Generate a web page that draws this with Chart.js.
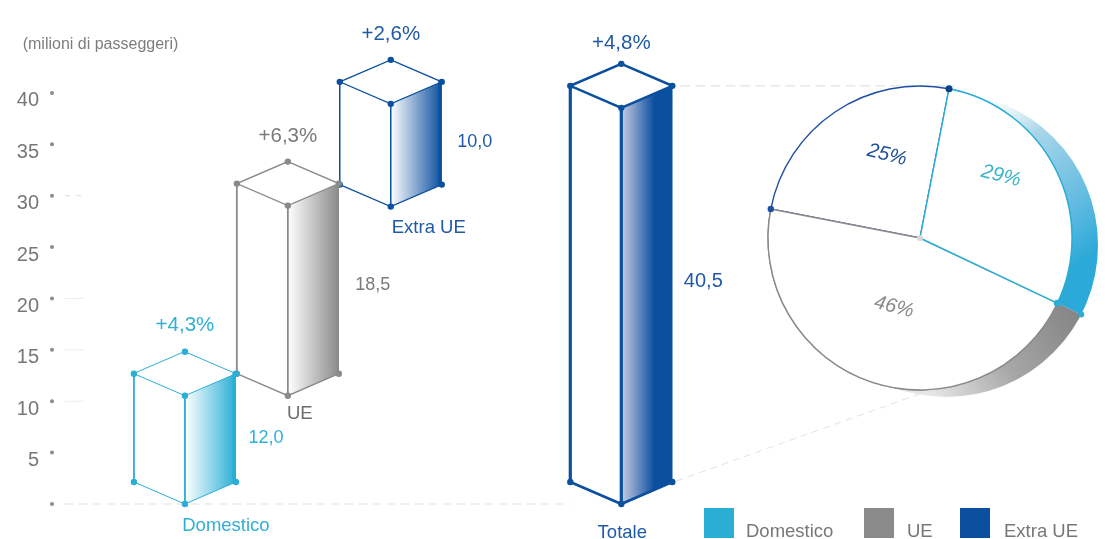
<!DOCTYPE html>
<html lang="it">
<head>
<meta charset="utf-8">
<title>Passeggeri</title>
<script src="https://cdn.jsdelivr.net/npm/chart.js@4/dist/chart.umd.min.js"></script>
<style>
    html, body { margin: 0; padding: 0; background: #fff; overflow: hidden; }
    #barsBox { position: absolute; left: 0; top: 0; width: 1105px; height: 539px; }
    #pieBox { position: absolute; left: 740px; top: 68px; width: 360px; height: 340px; }
</style>
</head>
<body>
<div id="barsBox"><canvas id="barsChart"></canvas></div>
<div id="pieBox"><canvas id="pieChart"></canvas></div>
<script>
const categories = ['Domestico', 'UE', 'Extra UE', 'Totale'];
const barValues = [12.0, 18.5, 10.0, 40.5];
const barStarts = [0, 12.0, 30.5, 0];
const changeLabels = ['+4,3%', '+6,3%', '+2,6%', '+4,8%'];
const yTicks = [0, 5, 10, 15, 20, 25, 30, 35, 40];

const pieLabels = ['Domestico', 'UE', 'Extra UE'];
const pieShares = [29, 46, 25];

const legendLabels = ['Domestico', 'UE', 'Extra UE'];

const CYAN = '#2aaed6';
const GREY = '#8a8a8a';
const BLUE = '#0b4f9f';
const FONT = '"Liberation Sans", Arial, sans-serif';

// colori e spessori di ogni parallelepipedo
const barColors = [CYAN, GREY, BLUE, BLUE];
const barLabelColors = ['#2fb0d6', '#7a7a7a', '#1f5aa8', '#1f5aa8'];
const barSideStart = ['#ffffff', '#ffffff', '#ffffff', '#c9cde4'];
const barEdge = [1.8, 1.8, 1.5, 3.2];
const barRoof = [1, 1.4, 1.2, 2.6];
// posizione di slot sull'asse x
const barSlots = [0, 1, 2, 4.24];
// offset delle etichette rispetto ai vertici del solido
const valueOffset = [[81, 10], [85, 6], [84, 9], [82, -2]];
const nameOffset = [[41, 22], [12, 18], [38, 21], [1, 29]];
const changeOffset = [-26, -25, -26, -21];
// quanto la faccia superiore sale sopra il valore sull'asse
const topLift = [7, 7, 6, 2];

const HALF_DEPTH = 22;

function dot(ctx, x, y, r, color) {
    ctx.fillStyle = color;
    ctx.beginPath();
    ctx.arc(x, y, r, 0, Math.PI * 2);
    ctx.fill();
}

function poly(ctx, points) {
    ctx.beginPath();
    points.forEach((p, i) => i ? ctx.lineTo(p[0], p[1]) : ctx.moveTo(p[0], p[1]));
    ctx.closePath();
}

function dashLine(ctx, x1, y1, x2, y2, dash, color) {
    ctx.save();
    ctx.strokeStyle = color;
    ctx.lineWidth = 1;
    ctx.setLineDash(dash);
    ctx.beginPath();
    ctx.moveTo(x1, y1);
    ctx.lineTo(x2, y2);
    ctx.stroke();
    ctx.restore();
}

function label(ctx, text, x, y, size, color) {
    ctx.font = size + 'px ' + FONT;
    ctx.fillStyle = color;
    ctx.textAlign = 'center';
    ctx.textBaseline = 'middle';
    ctx.fillText(text, x, y);
}

// solido isometrico costruito sull'elemento barra di Chart.js
function drawCuboid(ctx, bar, i, yScale) {
    const hw = bar.width / 2;
    const cx = bar.x;
    const zero = yScale.getPixelForValue(0);
    const topSide = yScale.getPixelForValue(barStarts[i] + barValues[i]) - topLift[i];
    const front = topSide + HALF_DEPTH;
    // la faccia superiore segue il valore, il vertice basso poggia sullo zero o sul solido sotto
    const base = barStarts[i] === 0 ? zero : yScale.getPixelForValue(barStarts[i]) - topLift[i] + HALF_DEPTH;
    const baseSide = base - HALF_DEPTH;
    const color = barColors[i];

    ctx.save();
    const grad = ctx.createLinearGradient(cx, 0, cx + hw, 0);
    grad.addColorStop(0, barSideStart[i]);
    grad.addColorStop(i === 3 ? 0.65 : 1, color);
    grad.addColorStop(1, color);
    ctx.fillStyle = grad;
    poly(ctx, [[cx, front], [cx + hw, topSide], [cx + hw, baseSide], [cx, base]]);
    ctx.fill();

    ctx.fillStyle = '#fff';
    poly(ctx, [[cx - hw, topSide], [cx, front], [cx, base], [cx - hw, baseSide]]);
    ctx.fill();

    ctx.strokeStyle = color;
    ctx.lineCap = 'round';
    ctx.lineWidth = barRoof[i];
    poly(ctx, [[cx, topSide - HALF_DEPTH], [cx + hw, topSide], [cx, front], [cx - hw, topSide]]);
    ctx.stroke();
    ctx.beginPath();
    ctx.moveTo(cx - hw, baseSide);
    ctx.lineTo(cx, base);
    ctx.lineTo(cx + hw, baseSide);
    ctx.stroke();

    ctx.lineWidth = barEdge[i];
    ctx.beginPath();
    ctx.moveTo(cx - hw, topSide);
    ctx.lineTo(cx - hw, baseSide);
    ctx.moveTo(cx, front);
    ctx.lineTo(cx, base);
    ctx.stroke();
    ctx.lineWidth = i === 1 ? 1.5 : 3.5;
    ctx.beginPath();
    ctx.moveTo(cx + hw - ctx.lineWidth / 2, topSide);
    ctx.lineTo(cx + hw - ctx.lineWidth / 2, baseSide);
    ctx.stroke();

    [[cx, topSide - HALF_DEPTH], [cx - hw, topSide], [cx + hw, topSide], [cx, front],
     [cx - hw, baseSide], [cx + hw, baseSide], [cx, base]].forEach(p => dot(ctx, p[0], p[1], 3.2, color));
    ctx.restore();

    label(ctx, changeLabels[i], cx, topSide - HALF_DEPTH + changeOffset[i], 20.5, barLabelColors[i]);
    label(ctx, barValues[i].toFixed(1).replace('.', ','), cx + valueOffset[i][0],
        (topSide + baseSide) / 2 + valueOffset[i][1], i === 3 ? 20 : 18, barLabelColors[i]);
    label(ctx, categories[i], cx + nameOffset[i][0], base + nameOffset[i][1], 18.5, i === 1 ? '#6e6e6e' : barLabelColors[i]);
}

const cuboidPlugin = {
    id: 'cuboidPlugin',
    afterDatasetsDraw(chart) {
        const ctx = chart.ctx;
        const yScale = chart.scales.y;
        const bars = chart.getDatasetMeta(0).data;
        const zero = yScale.getPixelForValue(0);

        // puntini dell'asse e tratteggi leggeri
        yScale.ticks.forEach(t => {
            const y = yScale.getPixelForValue(t.value);
            dot(ctx, 52, y, 2, '#8c8c8c');
            if ([10, 15, 20].includes(t.value)) dashLine(ctx, 65, y, 83, y, [], '#ececec');
            if (t.value === 30) dashLine(ctx, 65, y, 83, y, [5, 6], '#dcdcdc');
        });
        dashLine(ctx, 65, zero, bars[3].x - bars[3].width / 2, zero, [8, 6], '#dedede');

        // linee di collegamento dal totale alla torta
        const totalTop = yScale.getPixelForValue(barValues[3]) - topLift[3];
        const right = bars[3].x + bars[3].width / 2;
        dashLine(ctx, right + 8, totalTop, 955, totalTop, [10, 5], '#dcdcdc');
        dashLine(ctx, right + 4, zero - HALF_DEPTH - 1, 925, 392, [7, 5], '#e2e2e2');

        // prima i solidi dietro, il totale per ultimo
        [2, 1, 0, 3].forEach(i => drawCuboid(ctx, bars[i], i, yScale));

        label(ctx, '(milioni di passeggeri)', 100.5, 45, 16, '#7d7d7d');

        // legenda
        const swatches = [[704, CYAN], [864, GREY], [960, BLUE]];
        const texts = [746, 907, 1004];
        legendLabels.forEach((name, i) => {
            ctx.fillStyle = swatches[i][1];
            ctx.fillRect(swatches[i][0], 508, 30, 30);
            ctx.font = '18.5px ' + FONT;
            ctx.fillStyle = '#777';
            ctx.textAlign = 'left';
            ctx.textBaseline = 'middle';
            ctx.fillText(name, texts[i], 532);
        });
    }
};

new Chart(document.getElementById('barsChart'), {
    type: 'bar',
    data: {
        datasets: [{
            label: 'Passeggeri',
            data: categories.map((c, i) => ({ x: barSlots[i], y: [barStarts[i], barStarts[i] + barValues[i]] })),
            backgroundColor: 'transparent',
            borderWidth: 0,
            barThickness: 102
        }]
    },
    options: {
        responsive: true,
        maintainAspectRatio: false,
        animation: false,
        layout: { padding: { top: 0, bottom: 35, left: 0, right: 0 } },
        plugins: { legend: { display: false }, tooltip: { enabled: false } },
        scales: {
            x: { type: 'linear', display: false, offset: false, min: -1.35, max: 8.94 },
            y: {
                min: 0,
                max: 47.2,
                afterBuildTicks: axis => { axis.ticks = yTicks.map(v => ({ value: v })); },
                afterFit: axis => { axis.width = 46; },
                border: { display: false },
                grid: { display: false, drawTicks: false },
                ticks: {
                    autoSkip: false,
                    padding: 7,
                    labelOffset: 8,
                    color: '#777',
                    font: { family: FONT, size: 20 },
                    callback: value => value === 0 ? '' : value
                }
            }
        }
    },
    plugins: [cuboidPlugin]
});

// bordo spesso della torta: cerchio spostato, ritagliato sugli spicchi
const OFFSET_X = 26;
const OFFSET_Y = 7;

function crescent(ctx, arc, fill) {
    ctx.save();
    ctx.beginPath();
    ctx.moveTo(arc.x, arc.y);
    ctx.arc(arc.x, arc.y, arc.outerRadius + 60, arc.startAngle, arc.endAngle);
    ctx.closePath();
    ctx.clip();
    ctx.fillStyle = fill;
    ctx.beginPath();
    ctx.arc(arc.x + OFFSET_X, arc.y + OFFSET_Y, arc.outerRadius, 0, Math.PI * 2);
    ctx.fill();
    ctx.restore();
}

const piePlugin = {
    id: 'piePlugin',
    beforeDatasetsDraw(chart) {
        const ctx = chart.ctx;
        const arcs = chart.getDatasetMeta(0).data;
        const x = arcs[0].x;
        const y = arcs[0].y;

        const cyan = ctx.createLinearGradient(x + 55, y - 150, x + 175, y + 15);
        cyan.addColorStop(0, 'rgba(255,255,255,0)');
        cyan.addColorStop(0.35, '#a9d6ea');
        cyan.addColorStop(0.75, '#62bbe0');
        cyan.addColorStop(1, '#2ba9d8');
        crescent(ctx, arcs[0], cyan);

        const grey = ctx.createLinearGradient(x + 150, y + 70, x + 10, y + 155);
        grey.addColorStop(0, '#868686');
        grey.addColorStop(0.5, '#a6a6a6');
        grey.addColorStop(1, '#e6e6e6');
        crescent(ctx, arcs[1], grey);
    },
    afterDatasetsDraw(chart) {
        const ctx = chart.ctx;
        const arcs = chart.getDatasetMeta(0).data;
        const x = arcs[0].x;
        const y = arcs[0].y;
        const r = arcs[0].outerRadius;

        // i raggi di UE e Domestico stanno sopra quelli di Extra UE
        arcs[1].draw(ctx);
        arcs[0].draw(ctx);

        const dirs = [arcs[0].startAngle, arcs[1].endAngle, arcs[0].endAngle];
        dot(ctx, x + r * Math.cos(dirs[0]), y + r * Math.sin(dirs[0]), 3.5, '#0c3f88');
        dot(ctx, x + r * Math.cos(dirs[1]), y + r * Math.sin(dirs[1]), 3.2, '#1d4fa3');
        const cx = Math.cos(dirs[2]);
        const sy = Math.sin(dirs[2]);
        dot(ctx, x + r * cx, y + r * sy, 3.5, CYAN);
        const rim = r + OFFSET_X * cx + OFFSET_Y * sy;
        dot(ctx, x + rim * cx, y + rim * sy, 3, CYAN);
        dot(ctx, x, y, 3, '#d8d8d8');

        // percentuali in corsivo, inclinate come il disco
        const texts = [[81, -62, '#3bb3c9'], [-26, 69, '#8a8a8a'], [-33, -83, '#1f4f9e']];
        pieShares.forEach((share, i) => {
            ctx.save();
            ctx.translate(x + texts[i][0], y + texts[i][1]);
            ctx.rotate(14 * Math.PI / 180);
            ctx.font = 'italic 20px ' + FONT;
            ctx.fillStyle = texts[i][2];
            ctx.textAlign = 'center';
            ctx.textBaseline = 'middle';
            ctx.fillText(share + '%', 0, 0);
            ctx.restore();
        });
    }
};

new Chart(document.getElementById('pieChart'), {
    type: 'pie',
    data: {
        labels: pieLabels,
        datasets: [{
            data: pieShares,
            backgroundColor: '#ffffff',
            borderColor: [CYAN, GREY, '#1d4fa3'],
            borderWidth: 1.4,
            radius: 152,
            rotation: 11
        }]
    },
    options: {
        responsive: true,
        maintainAspectRatio: false,
        animation: false,
        plugins: { legend: { display: false }, tooltip: { enabled: false } }
    },
    plugins: [piePlugin]
});
</script>
</body>
</html>
